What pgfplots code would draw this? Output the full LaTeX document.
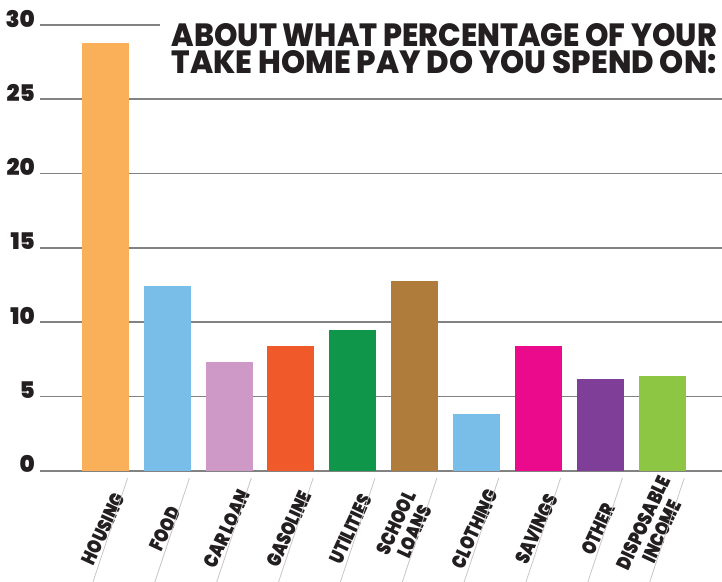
\documentclass[border=0pt]{standalone}
\usepackage{fontspec}
\setmainfont{Poppins}[BoldFont={Poppins ExtraBold}]
\newfontfamily\heavy{Poppins Black}
\usepackage{graphicx}
\usepackage{pgfplots}
\pgfplotsset{compat=1.18}
\definecolor{txt}{RGB}{35,31,32}
\definecolor{gridgray}{RGB}{130,130,130}
\definecolor{cHousing}{RGB}{250,176,89}
\definecolor{cFood}{RGB}{120,190,232}
\definecolor{cCar}{RGB}{206,153,198}
\definecolor{cGas}{RGB}{240,90,43}
\definecolor{cUtil}{RGB}{16,150,74}
\definecolor{cSchool}{RGB}{176,124,60}
\definecolor{cCloth}{RGB}{120,190,232}
\definecolor{cSave}{RGB}{235,10,140}
\definecolor{cOther}{RGB}{127,63,152}
\definecolor{cDisp}{RGB}{141,198,67}
\newcommand\lab[1]{\scalebox{0.8}[1]{#1}}
\newcommand\labb[2]{\raisebox{4.6bp}[\height][\depth]{\scalebox{0.8}[1]{\hspace*{-4bp}\begin{tabular}{@{}c@{}}#1\\#2\end{tabular}}}}
\begin{document}
\begin{tikzpicture}
\useasboundingbox (-40bp,-111.3bp) rectangle (682bp,470.7bp);
\begin{axis}[
  at={(0,0)}, anchor=south west,
  scale only axis, width=682bp, height=445.7bp,
  xmin=-1.056, xmax=9.97, ymin=0, ymax=30,
  ybar, bar width=47bp, bar shift=0pt,
  axis line style={draw=none},
  tick style={draw=none},
  ymajorgrids, ytick={0,5,...,30},
  yticklabels={0,5,10,15,20,25,30},
  major grid style={draw=gridgray, line width=1.6bp},
  xtick={0,...,9},
  xticklabels={\lab{HOUSING}, \lab{FOOD}, \lab{CAR LOAN}, \lab{GASOLINE}, \lab{UTILITIES}, \labb{SCHOOL}{LOANS}, \lab{CLOTHING}, \lab{SAVINGS}, \lab{OTHER}, \labb{DISPOSABLE}{INCOME}},
  xticklabel style={font=\fontsize{20}{20}\selectfont\heavy, text=txt, inner sep=0pt, xshift=-2bp, yshift=-54bp, rotate=65, anchor=center},
  yticklabel style={font=\fontsize{23}{23}\selectfont\heavy, text=txt, anchor=base east, inner sep=0pt, xshift=-5bp, yshift=-2bp},
  clip=false,
]
\addplot[fill=cHousing, draw=none] coordinates {(0,28.8)};
\addplot[fill=cFood, draw=none] coordinates {(1,12.4)};
\addplot[fill=cCar, draw=none] coordinates {(2,7.3)};
\addplot[fill=cGas, draw=none] coordinates {(3,8.4)};
\addplot[fill=cUtil, draw=none] coordinates {(4,9.5)};
\addplot[fill=cSchool, draw=none] coordinates {(5,12.8)};
\addplot[fill=cCloth, draw=none] coordinates {(6,3.8)};
\addplot[fill=cSave, draw=none] coordinates {(7,8.4)};
\addplot[fill=cOther, draw=none] coordinates {(8,6.2)};
\addplot[fill=cDisp, draw=none] coordinates {(9,6.4)};
\pgfplotsinvokeforeach{0,...,9}{
  \draw[black!22, line width=0.8bp] (axis cs:#1+0.36,-0.5) -- (axis cs:#1-0.2,-7.5);
}
\end{axis}
\fill[white] (120bp,385bp) rectangle (682bp,462bp);
\node[anchor=base east, inner sep=0pt, text=txt] at (677bp,424.2bp) {\resizebox{545bp}{23bp}{\bfseries ABOUT WHAT PERCENTAGE OF YOUR}};
\node[anchor=base east, inner sep=0pt, text=txt] at (677bp,397.2bp) {\resizebox{545bp}{23bp}{\bfseries TAKE HOME PAY DO YOU SPEND ON:}};
\end{tikzpicture}
\end{document}
